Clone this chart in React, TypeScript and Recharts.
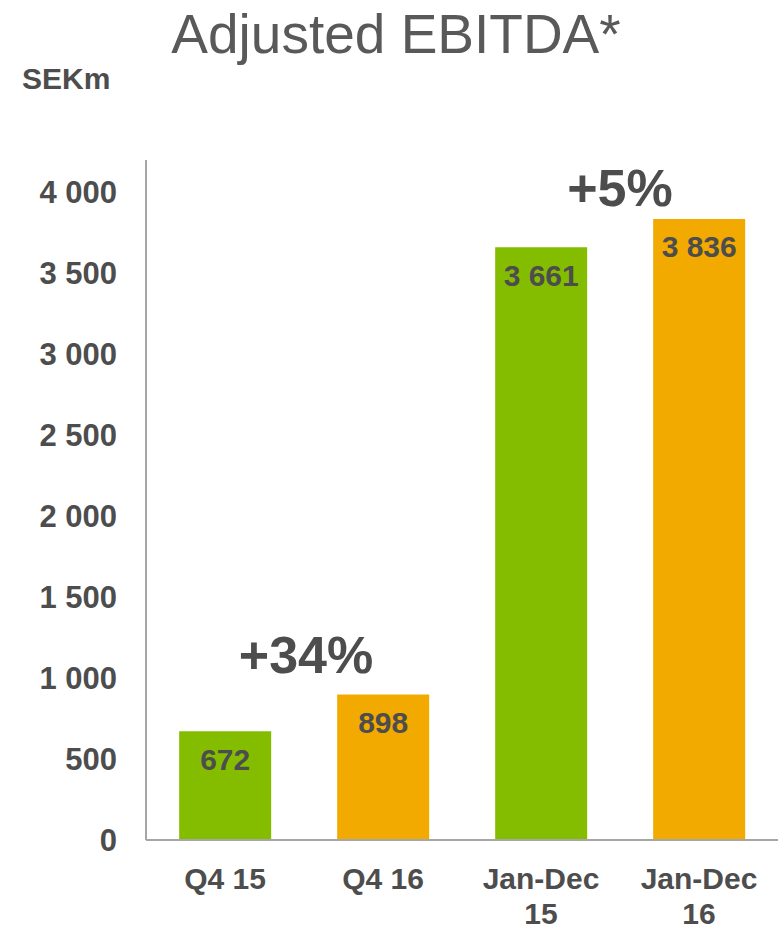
import { BarChart, Bar, XAxis, YAxis, Cell, LabelList } from "recharts";

const categories = ["Q4 15", "Q4 16", "Jan-Dec 15", "Jan-Dec 16"];
const tickLines = [["Q4 15"], ["Q4 16"], ["Jan-Dec", "15"], ["Jan-Dec", "16"]];
const values = [672, 898, 3661, 3836];
const barColors = ["#84BD00", "#F2A900", "#84BD00", "#F2A900"];
const yTicks = [0, 500, 1000, 1500, 2000, 2500, 3000, 3500, 4000];
const changes = [
  { text: "+34%", left: 306, top: 655 },
  { text: "+5%", left: 620, top: 188 },
];

const data = categories.map((name, i) => ({ name, value: values[i] }));

const textColor = "#4D4D4D";
const fontFamily = "'Liberation Sans', Arial, sans-serif";

const fmt = (v: number) => (v >= 1000 ? `${Math.floor(v / 1000)} ${String(v % 1000).padStart(3, "0")}` : String(v));

function XTick({ x, y, index }: any) {
  const lines = tickLines[index] || [];
  return (
    <g transform={`translate(${x},${y})`}>
      {lines.map((l, i) => (
        <text key={i} x={0} y={i * 35} dy={41} textAnchor="middle" fill={textColor} fontSize={30} fontWeight="bold" fontFamily={fontFamily}>
          {l}
        </text>
      ))}
    </g>
  );
}

export default function App() {
  return (
    <div style={{ position: "absolute", left: 0, top: 0, width: 780, height: 929, background: "#fff", fontFamily }}>
      <div style={{ position: "absolute", left: 0, width: 792, top: 2, textAlign: "center", fontSize: 55, color: "#595959" }}>
        Adjusted EBITDA*
      </div>
      <div style={{ position: "absolute", left: 22, top: 62, fontSize: 30, fontWeight: "bold", color: textColor }}>SEKm</div>
      {changes.map((c) => (
        <div
          key={c.text}
          style={{ position: "absolute", left: c.left, top: c.top, transform: "translate(-50%, -50%)", fontSize: 52, fontWeight: "bold", color: textColor, whiteSpace: "nowrap" }}
        >
          {c.text}
        </div>
      ))}
      <BarChart width={780} height={929} data={data} margin={{ top: 160, right: 2, bottom: 0, left: 0 }} barCategoryGap="21%">
        <XAxis
          dataKey="name"
          height={89}
          tickLine={false}
          axisLine={{ stroke: "#A6A6A6", strokeWidth: 2 }}
          tick={<XTick />}
          interval={0}
        />
        <YAxis
          width={146}
          domain={[0, 4200]}
          ticks={yTicks}
          tickFormatter={fmt}
          tickLine={false}
          tickSize={0}
          tickMargin={29}
          axisLine={{ stroke: "#A6A6A6", strokeWidth: 2 }}
          tick={{ fill: textColor, fontSize: 31, fontWeight: "bold", fontFamily }}
          interval={0}
        />
        <Bar dataKey="value" isAnimationActive={false}>
          {data.map((_, i) => (
            <Cell key={i} fill={barColors[i]} />
          ))}
          <LabelList
            dataKey="value"
            position="insideTop"
            offset={17}
            formatter={(v: any) => fmt(Number(v))}
            style={{ fill: textColor, fontSize: 30, fontWeight: "bold", fontFamily }}
          />
        </Bar>
      </BarChart>
    </div>
  );
}
